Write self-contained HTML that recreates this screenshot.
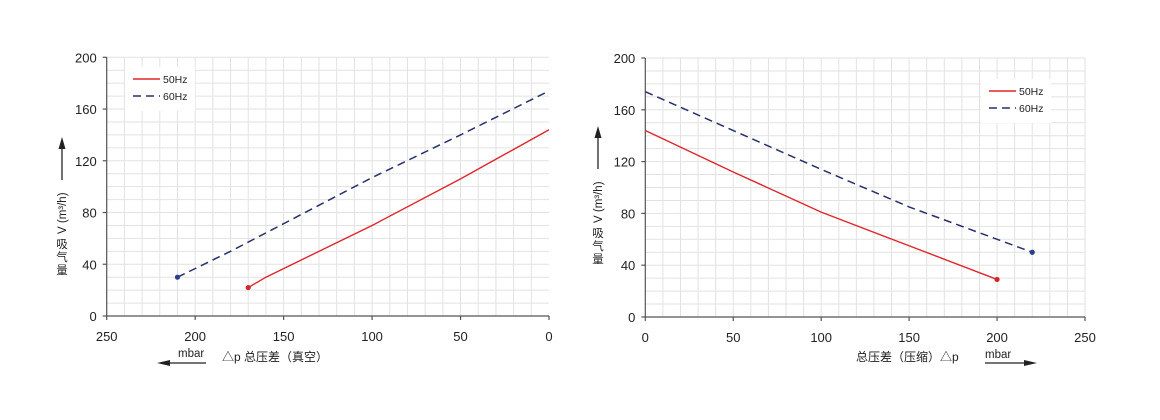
<!DOCTYPE html>
<html><head><meta charset="utf-8"><style>
html,body{margin:0;padding:0;background:#fff;}
svg{display:block;font-family:"Liberation Sans","Noto Sans CJK SC",sans-serif;}
</style></head><body>
<svg id="s" width="1160" height="420" viewBox="0 0 1160 420"></svg>
<script>
// Left chart (vacuum) data
const leftTicksX = [250, 200, 150, 100, 50, 0];
const leftTicksY = [0, 40, 80, 120, 160, 200];
const left50x = [170, 160, 100, 50, 0];
const left50y = [22, 30, 70, 106, 144];
const left60x = [210, 180, 100, 50, 0];
const left60y = [30, 50, 107, 140, 174];
// Right chart (pressure) data
const rightTicksX = [0, 50, 100, 150, 200, 250];
const rightTicksY = [0, 40, 80, 120, 160, 200];
const right50x = [0, 50, 100, 150, 200];
const right50y = [144, 112, 81, 55, 29];
const right60x = [0, 50, 100, 150, 220];
const right60y = [174, 144, 114, 85, 50];

const NS = "http://www.w3.org/2000/svg";
const svg = document.getElementById('s');
function el(tag, attrs, parent, text) {
  const e = document.createElementNS(NS, tag);
  for (const k in attrs) e.setAttribute(k, attrs[k]);
  if (text !== undefined) e.textContent = text;
  (parent || svg).appendChild(e);
  return e;
}

function chart(cfg) {
  const g = el('g', {});
  
  
  const sx = v => cfg.x0 + (v - cfg.xmin) / (cfg.xmax - cfg.xmin) * (cfg.x1 - cfg.x0);
  const sy = v => cfg.y0 - v / 200 * (cfg.y0 - cfg.y1);
  // grid
  const grid = el('g', {stroke: '#e2e2e2', 'stroke-width': 1}, g);
  
  
  for (let v = 10; v <= 250; v += 10) el('line', {x1: sx(v), x2: sx(v), y1: cfg.y1, y2: cfg.y0}, grid);
  for (let v = 10; v <= 200; v += 10) el('line', {x1: cfg.xL, x2: cfg.xR, y1: sy(v), y2: sy(v)}, grid);
  // axes
  const ax = el('g', {stroke: '#555', 'stroke-width': 1.2}, g);
  
  
  el('line', {x1: cfg.xL, x2: cfg.xR, y1: cfg.y0, y2: cfg.y0}, ax);
  el('line', {x1: cfg.yAxisX, x2: cfg.yAxisX, y1: cfg.y1, y2: cfg.y0}, ax);
  cfg.ticksX.forEach(v => {
    el('line', {x1: sx(v), x2: sx(v), y1: cfg.y0, y2: cfg.y0 + 4}, ax);
    const t = el('text', {x: sx(v), y: cfg.y0 + 25, 'text-anchor': 'middle', 'font-size': 13, fill: '#222'}, g, v);
    
    
  });
  cfg.ticksY.forEach(v => {
    el('line', {x1: cfg.yAxisX - 4, x2: cfg.yAxisX, y1: sy(v), y2: sy(v)}, ax);
    const t = el('text', {x: cfg.yAxisX - 10, y: sy(v) + 5, 'text-anchor': 'end', 'font-size': 13, fill: '#222'}, g, v);
    
    
  });
  // series
  const s50 = el('polyline', {points: cfg.a50x.map((v, i) => sx(v) + ',' + sy(cfg.a50y[i])).join(' '), fill: 'none', stroke: '#e0262b', 'stroke-width': 1.4}, g);
  
  
  const s60 = el('polyline', {points: cfg.a60x.map((v, i) => sx(v) + ',' + sy(cfg.a60y[i])).join(' '), fill: 'none', stroke: '#27306b', 'stroke-width': 1.5, 'stroke-dasharray': '8,5'}, g);
  
  
  const e50 = cfg.endIdx50, e60 = cfg.endIdx60;
  const d1 = el('circle', {cx: sx(cfg.a50x[e50]), cy: sy(cfg.a50y[e50]), r: 2.6, fill: '#d0262b'}, g);
  
  
  const d2 = el('circle', {cx: sx(cfg.a60x[e60]), cy: sy(cfg.a60y[e60]), r: 2.6, fill: '#2a3f8a'}, g);
  
  
  // legend
  const lg = el('g', {}, g);
  
  
  el('rect', {x: cfg.lx - 8, y: cfg.ly - 12, width: 70, height: 44, fill: '#fff'}, lg);
  el('line', {x1: cfg.lx, x2: cfg.lx + 27, y1: cfg.ly, y2: cfg.ly, stroke: '#e0262b', 'stroke-width': 1.4}, lg);
  el('text', {x: cfg.lx + 30, y: cfg.ly + 4, 'font-size': 10.5, fill: '#222'}, lg, '50Hz');
  el('line', {x1: cfg.lx, x2: cfg.lx + 27, y1: cfg.ly + 17, y2: cfg.ly + 17, stroke: '#27306b', 'stroke-width': 1.5, 'stroke-dasharray': '8,5'}, lg);
  el('text', {x: cfg.lx + 30, y: cfg.ly + 21, 'font-size': 10.5, fill: '#222'}, lg, '60Hz');
  // y label
  const yl = el('g', {}, g);
  
  
  const cx = cfg.labX;
  el('line', {x1: cx, x2: cx, y1: cfg.labTop + 8, y2: cfg.labTop + 43, stroke: '#222', 'stroke-width': 1.3}, yl);
  el('polygon', {points: `${cx},${cfg.labTop} ${cx - 3.5},${cfg.labTop + 12} ${cx + 3.5},${cfg.labTop + 12}`, fill: '#222'}, yl);
  el('text', {transform: `translate(${cx + 4},${cfg.labTop + 97}) rotate(-90)`, 'font-size': 11.5, fill: '#222'}, yl, 'V (m³/h)');
  ['吸', '气', '量'].forEach((c, i) => el('text', {x: cx, y: cfg.labTop + 111 + i * 13, 'text-anchor': 'middle', 'font-size': 11.5, fill: '#222'}, yl, c));
}

chart({name: 'vacuum-chart', x0: 106.7, x1: 549, xmin: 250, xmax: 0, xL: 106.7, xR: 549, yAxisX: 106.7,
  y0: 316, y1: 57.3, ticksX: leftTicksX, ticksY: leftTicksY,
  a50x: left50x, a50y: left50y, a60x: left60x, a60y: left60y, endIdx50: 0, endIdx60: 0,
  lx: 133, ly: 79, labX: 62, labTop: 137});
chart({name: 'pressure-chart', x0: 645.3, x1: 1085, xmin: 0, xmax: 250, xL: 645.3, xR: 1085, yAxisX: 645.3,
  y0: 317, y1: 58, ticksX: rightTicksX, ticksY: rightTicksY,
  a50x: right50x, a50y: right50y, a60x: right60x, a60y: right60y, endIdx50: 4, endIdx60: 4,
  lx: 989, ly: 91, labX: 598, labTop: 126});

// x titles
const xt1 = el('text', {x: 222, y: 361, 'font-size': 12, fill: '#222'}, svg, '△p  总压差（真空）');


const m1 = el('text', {x: 178, y: 357, 'font-size': 11.5, fill: '#222'}, svg, 'mbar');


el('line', {x1: 206, x2: 164, y1: 363, y2: 363, stroke: '#222', 'stroke-width': 1.2});
el('polygon', {points: '157,363 170,360 170,366', fill: '#222'});
const xt2 = el('text', {x: 856, y: 361, 'font-size': 12, fill: '#222'}, svg, '总压差（压缩）△p');


const m2 = el('text', {x: 985, y: 358, 'font-size': 11.5, fill: '#222'}, svg, 'mbar');


el('line', {x1: 985, x2: 1030, y1: 363, y2: 363, stroke: '#222', 'stroke-width': 1.2});
el('polygon', {points: '1037,363 1024,360 1024,366', fill: '#222'});
</script>
</body></html>
